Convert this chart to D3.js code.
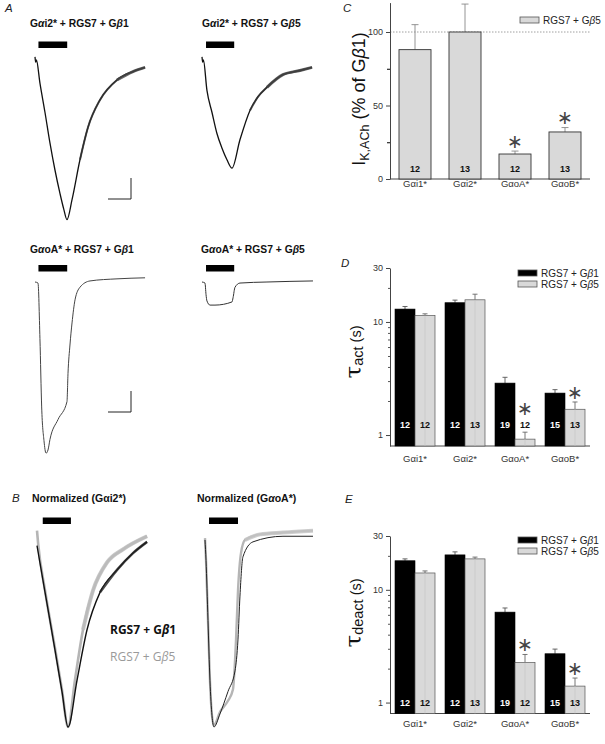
<!DOCTYPE html>
<html><head><meta charset="utf-8">
<script src="https://cdn.jsdelivr.net/npm/d3@7"></script>
<style>body{margin:0;background:#fff} svg{display:block}</style>
</head><body><svg id="c" width="605" height="744"></svg>
<script>
// ================= DATA =================
const categories = ["Gαi1*", "Gαi2*", "GαoA*", "GαoB*"];
const nGb1 = [12, 12, 19, 15];
const nGb5 = [12, 13, 12, 13];
// Panel C: I K,ACh with RGS7 + Gb5 (% of Gb1)
const ikachGb5 = [88, 100, 17, 32];
const ikachGb5Err = [17, 19, 2, 3];
const ikachSig = [false, false, true, true];
const ikachTicksMajor = [0, 50, 100];
const ikachTicksMinor = [25, 75];
// Panel D: tau act (s)
const tauActGb1 = [13.0, 14.8, 2.88, 2.35];
const tauActGb1Err = [0.7, 0.8, 0.36, 0.17];
const tauActGb5 = [11.4, 15.7, 0.92, 1.69];
const tauActGb5Err = [0.4, 1.9, 0.14, 0.27];
const tauActSig = [false, false, true, true];
// Panel E: tau deact (s)
const tauDeactGb1 = [18.1, 20.4, 6.34, 2.71];
const tauDeactGb1Err = [0.7, 1.3, 0.56, 0.27];
const tauDeactGb5 = [14.1, 18.8, 2.26, 1.40];
const tauDeactGb5Err = [0.6, 0.7, 0.41, 0.25];
const tauDeactSig = [false, false, true, true];
const logTicksMajor = [1, 10, 30];
const logTicksMinor = [2, 3, 4, 5, 6, 7, 8, 9, 20];

// Current traces: [time (s), current (nA)]
const traceGi2Gb1 = [[0,0.03],[0.6,-0.02],[1.2,0.0],[4.3,-0.22],[8.7,-0.50],[13,-0.79],[17.4,-1.05],[21.7,-1.27],[25,-1.42],[27.8,-1.52],[32.2,-1.33],[39.1,-0.95],[46.1,-0.64],[56.5,-0.38],[71.3,-0.19],[85.2,-0.11],[95.7,-0.07]];
const traceGi2Gb5 = [[0,0.03],[0.6,-0.02],[1.2,0.0],[4.3,-0.29],[8.7,-0.50],[13,-0.70],[17.4,-0.84],[21.7,-0.95],[26.1,-1.03],[33,-0.76],[41.7,-0.48],[48.7,-0.35],[56.5,-0.26],[70.4,-0.14],[85.2,-0.10],[95.7,-0.07]];
const traceGoAGb1 = [[0,0],[2.6,-0.01],[4.3,-0.54],[5.8,-1.19],[7.8,-1.51],[9.6,-1.63],[11.3,-1.60],[13,-1.50],[20,-1.31],[27.8,-1.14],[28.7,-0.87],[30.4,-0.60],[32.2,-0.39],[34.8,-0.17],[39.1,-0.05],[47.8,0.01],[71.3,0.03],[95.7,0.04]];
const traceGoAGb5 = [[0,0],[2.6,-0.01],[3.5,-0.12],[4.3,-0.18],[7,-0.22],[11.3,-0.22],[26.1,-0.19],[27,-0.15],[28.7,-0.05],[33,-0.01],[56.5,0],[96.5,0.01]];
// Normalized traces: [time (s), normalized current]
const normGi2Gb1 = [[0,-0.03],[7,-0.28],[15.7,-0.59],[21.7,-0.81],[27,-1.0],[34.8,-0.75],[43.5,-0.48],[54.8,-0.28],[69.6,-0.16],[83.5,-0.07],[95.7,-0.01]];
const normGi2Gb5 = [[0,0.05],[1,-0.02],[7,-0.27],[15.7,-0.58],[21.7,-0.80],[27,-1.0],[33,-0.75],[40,-0.48],[48.7,-0.27],[60.9,-0.12],[74.8,-0.05],[95.7,0.02]];
const normGoAGb1 = [[0,0],[0.9,-0.11],[2.6,-0.43],[4.3,-0.75],[6.1,-0.94],[7.8,-1.0],[13,-0.93],[20,-0.81],[26.1,-0.70],[28.7,-0.53],[30.4,-0.30],[33,-0.09],[41.7,-0.01],[67.8,0.02],[93.9,0.02]];
const normGoAGb5 = [[0,0.01],[0.9,-0.11],[2.6,-0.43],[4.3,-0.75],[6.1,-0.94],[7.8,-0.99],[13,-0.92],[20,-0.86],[24.3,-0.80],[27,-0.53],[28.7,-0.27],[31.3,-0.07],[34.8,0],[47.8,0.03],[67.8,0.04],[93.9,0.05]];

// ================= DRAW =================
const svg = d3.select("#c");
const F = "'Liberation Sans', Arial, Helvetica, sans-serif";

function txt(x, y, s, o = {}) {
  const t = svg.append("text").attr("x", x).attr("y", y).attr("font-family", o.family || F)
    .attr("font-size", o.size || 10).attr("fill", o.fill || "#111")
    .attr("font-weight", o.weight || "normal").attr("font-style", o.style || "normal")
    .attr("text-anchor", o.anchor || "start");
  return t.text(s);
}
function titleGreek(x, y, parts, size, weight, fill) {
  const t = svg.append("text").attr("x", x).attr("y", y).attr("font-family", F)
    .attr("font-size", size).attr("font-weight", weight).attr("fill", fill || "#111");
  parts.forEach(p => t.append("tspan").attr("font-style", p[1] ? "italic" : "normal").text(p[0]));
  return t;
}

// panel letters
[["A",5,12],["B",12,502],["C",343,12],["D",341,267],["E",345,503]].forEach(l =>
  txt(l[1], l[2], l[0], {size: 11.5, style: "italic", fill: "#222"}));

// ---------- trace panels ----------
function tracePanel(cfg) {
  const x = d3.scaleLinear().domain([0, 100]).range([cfg.x0, cfg.x0 + 115]);
  const y = d3.scaleLinear().domain([0, -1]).range([cfg.y0, cfg.y0 + cfg.k]);
  const line = d3.line().x(d => x(d[0])).y(d => y(d[1])).curve(d3.curveMonotoneX);
  svg.append("rect").attr("x", x(cfg.stim[0])).attr("width", x(cfg.stim[1]) - x(cfg.stim[0]))
    .attr("y", cfg.stimY).attr("height", 6.5).attr("fill", "#000");
  cfg.series.forEach(s => {
    svg.append("path").attr("d", line(s.data)).attr("fill", "none").attr("stroke", s.color)
      .attr("stroke-width", s.width).attr("stroke-linejoin", "round");
    (s.noise || []).forEach(n => {
      svg.append("path").attr("d", line(s.data.filter(d => d[0] >= n[0]))).attr("fill", "none")
        .attr("stroke", n[2] || s.color).attr("stroke-width", n[1]).attr("stroke-opacity", 0.8)
        .attr("stroke-linejoin", "round");
    });
  });
  if (cfg.scaleBar) {
    const [ax, ay] = cfg.scaleBar;
    const w = x(20) - x(0), h = y(-0.2) - y(0);
    svg.append("path").attr("d", `M${ax - w},${ay}H${ax}V${ay - h}`).attr("fill", "none")
      .attr("stroke", "#222").attr("stroke-width", 1);
  }
}

tracePanel({x0: 35, y0: 60, k: 105, stim: [3, 28], stimY: 41.5, scaleBar: [131, 199],
  series: [{data: traceGi2Gb1, color: "#111", width: 1.3, noise: [[38, 2, "#333"], [58, 3, "#444"]]}]});
tracePanel({x0: 202, y0: 60, k: 105, stim: [3.5, 28], stimY: 41.5,
  series: [{data: traceGi2Gb5, color: "#111", width: 1.3, noise: [[38, 2, "#333"], [56, 3, "#444"]]}]});
tracePanel({x0: 35, y0: 282, k: 105, stim: [3, 28], stimY: 265, scaleBar: [131, 412],
  series: [{data: traceGoAGb1, color: "#444", width: 1}]});
tracePanel({x0: 202, y0: 282, k: 105, stim: [3.5, 28], stimY: 265,
  series: [{data: traceGoAGb5, color: "#333", width: 1}]});
tracePanel({x0: 37, y0: 540, k: 187, stim: [5, 29.5], stimY: 517.5,
  series: [{data: normGi2Gb5, color: "#b5b5b5", width: 2.6, noise: [[40, 4, "#bdbdbd"]]},
           {data: normGi2Gb1, color: "#111", width: 1.4, noise: [[44, 2.6, "#222"]]}]});
tracePanel({x0: 205, y0: 540, k: 187, stim: [3.5, 28.7], stimY: 517.5,
  series: [{data: normGoAGb5, color: "#b5b5b5", width: 2.4, noise: [[33, 4, "#c4c4c4"]]},
           {data: normGoAGb1, color: "#222", width: 1}]});

// trace titles
const bOpts = [10.3, "bold"];
titleGreek(30, 27, [["G"],["α",1],["i2* + RGS7 + G"],["β",1],["1"]], ...bOpts);
titleGreek(202, 27, [["G"],["α",1],["i2* + RGS7 + G"],["β",1],["5"]], ...bOpts);
titleGreek(30, 253, [["G"],["α",1],["oA* + RGS7 + G"],["β",1],["1"]], ...bOpts);
titleGreek(201, 253, [["G"],["α",1],["oA* + RGS7 + G"],["β",1],["5"]], ...bOpts);
titleGreek(32, 502, [["Normalized (G"],["α"],["i2*)"]], 10.5, "bold");
titleGreek(197, 502, [["Normalized (G"],["α",1],["oA*)"]], 10.5, "bold");
const FO = "'Open Sans', 'Liberation Sans', sans-serif";
svg.append("text").attr("x", 110).attr("y", 634).attr("font-family", FO).attr("font-size", 12)
  .attr("font-weight", "bold").attr("fill", "#111")
  .call(t => { t.append("tspan").text("RGS7 + G"); t.append("tspan").attr("font-style","italic").text("β"); t.append("tspan").text("1"); });
svg.append("text").attr("x", 110).attr("y", 661).attr("font-family", FO).attr("font-size", 12)
  .attr("fill", "#9a9a9a")
  .call(t => { t.append("tspan").text("RGS7 + G"); t.append("tspan").attr("font-style","italic").text("β"); t.append("tspan").text("5"); });

// ---------- bar chart helpers ----------
const GRAY = "#d9d9d9";
// significance asterisk, drawn as text centred (approximately) on cy
function star(cx, cy) {
  svg.append("text").attr("x", cx).attr("y", cy + 5.5).attr("text-anchor", "middle")
    .attr("font-family", "'DejaVu Sans', sans-serif").attr("font-size", 19).attr("fill", "#444").text("∗");
}
function catLabels(xs, baseline) {
  categories.forEach(c => txt(xs(c) + xs.bandwidth() / 2, baseline, c, {size: 9.5, anchor: "middle", fill: "#333"}));
}
function legendItem(x, y, fill, label) {
  svg.append("rect").attr("x", x).attr("y", y).attr("width", 19).attr("height", 6)
    .attr("fill", fill).attr("stroke", "#555").attr("stroke-width", 0.8);
  svg.append("text").attr("x", x + 23).attr("y", y + 6.5).attr("font-family", F).attr("font-size", 10)
    .attr("fill", "#222").call(t => { t.append("tspan").text(label[0]); t.append("tspan").attr("font-style","italic").text("β"); t.append("tspan").text(label[1]); });
}
function errBar(x, yTop, yErr, color, cap) {
  svg.append("path").attr("d", `M${x},${yTop}V${yErr}M${x - cap},${yErr}H${x + cap}`)
    .attr("stroke", color).attr("stroke-width", 0.9).attr("fill", "none");
}

// ---------- Panel C ----------
{
  const xs = d3.scaleBand().domain(categories).range([390, 590]).paddingInner(0.36).paddingOuter(0.18);
  const ys = d3.scaleLinear().domain([0, 120]).range([179, 2.6]);
  svg.append("line").attr("x1", 390).attr("x2", 590).attr("y1", ys(100)).attr("y2", ys(100))
    .attr("stroke", "#888").attr("stroke-dasharray", "1.5,1.5").attr("stroke-width", 0.8);
  const gA = svg.append("g").attr("transform", "translate(390,0)")
    .call(d3.axisLeft(ys).tickValues(ikachTicksMajor).tickSize(4).tickSizeOuter(0).tickPadding(3));
  svg.append("g").attr("transform", "translate(390,0)")
    .call(d3.axisLeft(ys).tickValues(ikachTicksMinor).tickSize(3).tickSizeOuter(0).tickFormat(""))
    .select(".domain").remove();
  svg.append("line").attr("x1", 390).attr("x2", 590).attr("y1", 179).attr("y2", 179).attr("stroke", "#444");
  categories.forEach((c, i) => {
    const x0 = xs(c), bw = xs.bandwidth(), cx = x0 + bw / 2;
    errBar(cx, ys(ikachGb5[i]), ys(ikachGb5[i] + ikachGb5Err[i]), "#888", 3.5);
    svg.append("rect").attr("x", x0).attr("y", ys(ikachGb5[i])).attr("width", bw)
      .attr("height", ys(0) - ys(ikachGb5[i])).attr("fill", GRAY).attr("stroke", "#333").attr("stroke-width", 0.9);
    txt(cx, 172, nGb5[i], {size: 9, weight: "bold", anchor: "middle", fill: "#111"});
    if (ikachSig[i]) star(cx, ys(ikachGb5[i] + ikachGb5Err[i]) - 9);
  });
  catLabels(xs, 186.5);
  legendItem(520, 17, GRAY, ["RGS7 + G", "5"]);
  const lab = svg.append("text").attr("transform", "translate(365,99) rotate(-90)").attr("text-anchor", "middle")
    .attr("font-family", F).attr("font-size", 18).attr("fill", "#111");
  lab.append("tspan").text("I");
  lab.append("tspan").attr("font-size", 12.5).attr("dy", 4).text("K,ACh");
  lab.append("tspan").attr("dy", -4).text(" (% of G");
  lab.append("tspan").attr("font-style", "italic").text("β");
  lab.append("tspan").text("1)");
  [gA].forEach(g => { g.selectAll("text").attr("font-family", F).attr("font-size", 9).attr("fill", "#333");
    g.selectAll("line,path").attr("stroke", "#444"); });
}

// ---------- Panels D & E ----------
function tauPanel(o) {
  const xs = d3.scaleBand().domain(categories).range([390, 590]).paddingInner(0.2).paddingOuter(0.1);
  const ys = d3.scaleLog().domain([0.8, 30]).range([o.bottom, o.top]);
  const g = svg.append("g").attr("transform", "translate(390,0)")
    .call(d3.axisLeft(ys).tickValues(logTicksMajor).tickFormat(d3.format("d")).tickSize(4).tickSizeOuter(0).tickPadding(3));
  g.selectAll("text").attr("font-family", F).attr("font-size", 9).attr("fill", "#333");
  g.selectAll("line,path").attr("stroke", "#444");
  svg.append("g").attr("transform", "translate(390,0)")
    .call(d3.axisLeft(ys).tickValues(logTicksMinor).tickSize(2).tickFormat(""))
    .call(s => { s.select(".domain").remove(); s.selectAll("line").attr("stroke", "#555"); });
  svg.append("line").attr("x1", 390).attr("x2", 590).attr("y1", o.bottom).attr("y2", o.bottom).attr("stroke", "#444");
  categories.forEach((c, i) => {
    const x0 = xs(c), bw = xs.bandwidth() / 2;
    const cb = x0 + bw / 2, cg = x0 + bw * 1.5;
    errBar(cb, ys(o.gb1[i]), ys(o.gb1[i] + o.gb1Err[i]), "#555", 2.5);
    errBar(cg, ys(o.gb5[i]), ys(o.gb5[i] + o.gb5Err[i]), "#666", 2.5);
    svg.append("rect").attr("x", x0).attr("y", ys(o.gb1[i])).attr("width", bw)
      .attr("height", o.bottom - ys(o.gb1[i])).attr("fill", "#000").attr("stroke", "#000").attr("stroke-width", 0.6);
    svg.append("rect").attr("x", x0 + bw).attr("y", ys(o.gb5[i])).attr("width", bw)
      .attr("height", o.bottom - ys(o.gb5[i])).attr("fill", GRAY).attr("stroke", "#555").attr("stroke-width", 0.7);
    svg.append("line").attr("x1", cg).attr("x2", cg).attr("y1", ys(o.gb5[i])).attr("y2", o.bottom)
      .attr("stroke", "#c4c4c4").attr("stroke-width", 0.6);
    txt(cb, o.nBase, nGb1[i], {size: 9, weight: "bold", anchor: "middle", fill: "#fff"});
    txt(cg, o.nBase, nGb5[i], {size: 9, weight: "bold", anchor: "middle", fill: "#111"});
    if (o.sig[i]) {
      const top = Math.min(ys(o.gb5[i] + o.gb5Err[i]), o.nBase - 10);
      star(cg, top - 8.5);
    }
  });
  catLabels(xs, o.catBase);
  legendItem(518, o.legY, "#000", ["RGS7 + G", "1"]);
  legendItem(518, o.legY + 11, GRAY, ["RGS7 + G", "5"]);
  const lab = svg.append("text").attr("transform", `translate(${o.labX},${o.labY}) rotate(-90)`).attr("text-anchor", "middle")
    .attr("font-family", F).attr("font-size", 14.5).attr("fill", "#111");
  lab.append("tspan").attr("font-size", 23).attr("font-family", "'DejaVu Serif', serif").text("τ");
  lab.append("tspan").attr("dy", 1.5).text(o.sub);
  lab.append("tspan").attr("dy", -1.5).text(" (s)");
}
tauPanel({top: 268, bottom: 446, gb1: tauActGb1, gb1Err: tauActGb1Err, gb5: tauActGb5, gb5Err: tauActGb5Err,
  sig: tauActSig, nBase: 427.5, catBase: 461.5, legY: 270, labX: 361, labY: 352, sub: "act"});
tauPanel({top: 536, bottom: 713.5, gb1: tauDeactGb1, gb1Err: tauDeactGb1Err, gb5: tauDeactGb5, gb5Err: tauDeactGb5Err,
  sig: tauDeactSig, nBase: 706, catBase: 727, legY: 537, labX: 361, labY: 613, sub: "deact"});
</script>
</body></html>
